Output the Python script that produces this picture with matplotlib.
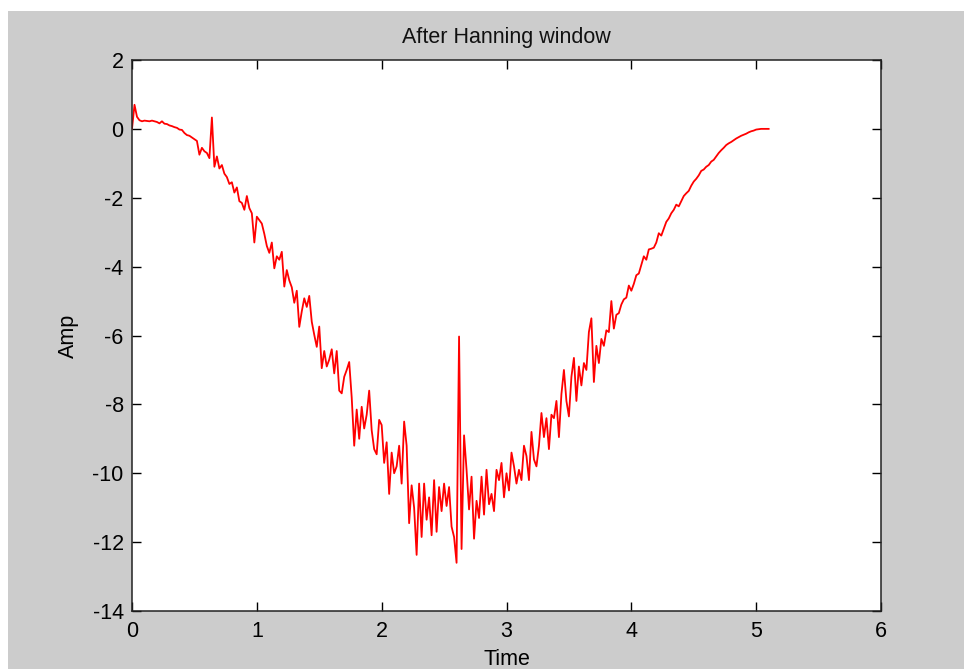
import numpy as np
import matplotlib
matplotlib.use("Agg")
import matplotlib.pyplot as plt
from matplotlib.patches import Rectangle

dt = 0.02
amp_0_0 = [0.00, 0.70, 0.35, 0.25, 0.22, 0.24, 0.23, 0.22, 0.24, 0.22,
           0.20, 0.16, 0.22, 0.15, 0.14, 0.10, 0.08, 0.05, 0.03, -0.02,
           -0.03, -0.12, -0.18, -0.20, -0.25]
amp_0_5 = [-0.30, -0.35, -0.75, -0.55, -0.65, -0.70, -0.85, 0.33, -1.10, -0.80,
           -1.15, -1.05, -1.30, -1.40, -1.60, -1.55, -1.85, -1.70, -2.10, -2.15,
           -2.35, -1.95, -2.30, -2.45, -3.30]
amp_1_0 = [-2.55, -2.65, -2.75, -3.05, -3.40, -3.60, -3.30, -4.05, -3.70, -3.80,
           -3.57, -4.58, -4.10, -4.40, -4.60, -5.05, -4.70, -5.75, -5.30, -4.92,
           -5.17, -4.85, -5.60, -5.98, -6.33]
amp_1_5 = [-5.74, -6.95, -6.45, -6.90, -6.70, -6.40, -7.10, -6.45, -7.60, -7.68,
           -7.20, -7.00, -6.77, -7.80, -9.20, -8.15, -9.00, -8.07, -8.70, -8.30,
           -7.60, -8.75, -9.30, -9.45, -8.45]
amp_2_0 = [-8.60, -9.70, -9.10, -10.60, -9.40, -10.00, -9.80, -9.20, -10.30, -8.50,
           -9.20, -11.45, -10.35, -11.00, -12.37, -10.30, -11.85, -10.30, -11.35, -10.70,
           -11.80, -10.20, -11.70, -10.40, -11.10]
amp_2_5 = [-10.30, -10.95, -10.40, -11.55, -11.85, -12.60, -6.03, -12.20, -8.90, -9.90,
           -11.05, -10.10, -11.90, -10.80, -11.30, -10.10, -11.20, -9.90, -10.90, -10.60,
           -11.10, -9.90, -10.20, -9.70, -10.70]
amp_3_0 = [-10.00, -10.50, -9.40, -9.80, -10.30, -9.90, -10.20, -9.20, -9.50, -10.20,
           -8.80, -9.60, -9.80, -9.20, -8.25, -8.95, -8.40, -9.30, -8.30, -8.40,
           -7.90, -8.95, -7.70, -7.00, -7.90]
amp_3_5 = [-8.35, -7.20, -6.65, -7.90, -6.90, -7.45, -6.80, -7.00, -5.90, -5.50,
           -7.35, -6.30, -6.80, -6.10, -6.30, -5.85, -5.90, -5.00, -5.80, -5.40,
           -5.35, -5.10, -4.95, -4.90, -4.55]
amp_4_0 = [-4.70, -4.50, -4.25, -4.20, -3.95, -3.70, -3.80, -3.50, -3.48, -3.45,
           -3.30, -3.03, -3.10, -2.90, -2.70, -2.60, -2.45, -2.35, -2.20, -2.25,
           -2.10, -1.95, -1.87, -1.80, -1.65]
amp_4_5 = [-1.53, -1.45, -1.35, -1.22, -1.18, -1.10, -1.05, -0.95, -0.90, -0.80,
           -0.70, -0.62, -0.55, -0.47, -0.42, -0.38, -0.33, -0.28, -0.24, -0.20,
           -0.17, -0.14, -0.10, -0.07, -0.05]
amp_5_0 = [-0.02, -0.01, 0.00, 0.00, 0.00, 0.00]

amp = np.array(amp_0_0 + amp_0_5 + amp_1_0 + amp_1_5 + amp_2_0 + amp_2_5 +
               amp_3_0 + amp_3_5 + amp_4_0 + amp_4_5 + amp_5_0)
time = np.arange(len(amp)) * dt

x_ticks = [0, 1, 2, 3, 4, 5, 6]
y_ticks = [2, 0, -2, -4, -6, -8, -10, -12, -14]

title_text = "After Hanning window"
x_label = "Time"
y_label = "Amp"

# ---- figure ----
W, H = 964, 669
fig = plt.figure(figsize=(W / 100, H / 100), dpi=100, facecolor="white")
fig.patches.append(Rectangle((8 / W, 0), 1 - 8 / W, 1 - 11 / H,
                             transform=fig.transFigure, facecolor="#cccccc",
                             edgecolor="none", zorder=-10))

plt.rcParams["font.family"] = ["Liberation Sans", "DejaVu Sans"]
fs = 15.5

ax = fig.add_axes([132 / W, 1 - 611 / H, (881 - 132) / W, (611 - 60) / H])
ax.set_facecolor("white")
ax.plot(time, amp, color="red", linewidth=1.3)

ax.set_xlim(0, 6)
ax.set_ylim(-14, 2)
ax.set_xticks(x_ticks)
ax.set_yticks(y_ticks)
ax.set_xticklabels([str(v) for v in x_ticks])
ax.set_yticklabels([str(v) for v in y_ticks])

ax.tick_params(direction="in", length=6.5, width=1.0, top=True, right=True,
               labelsize=fs, colors="black")
ax.tick_params(axis="x", pad=7)
ax.tick_params(axis="y", pad=6)
for s in ax.spines.values():
    s.set_linewidth(1.1)
    s.set_color("#222222")

ax.set_title(title_text, fontsize=fs, pad=12, color="#111111")
ax.set_xlabel(x_label, fontsize=fs, labelpad=5)
ax.set_ylabel(y_label, fontsize=fs, labelpad=10)

fig.savefig("out.png", dpi=100, facecolor=fig.get_facecolor())
